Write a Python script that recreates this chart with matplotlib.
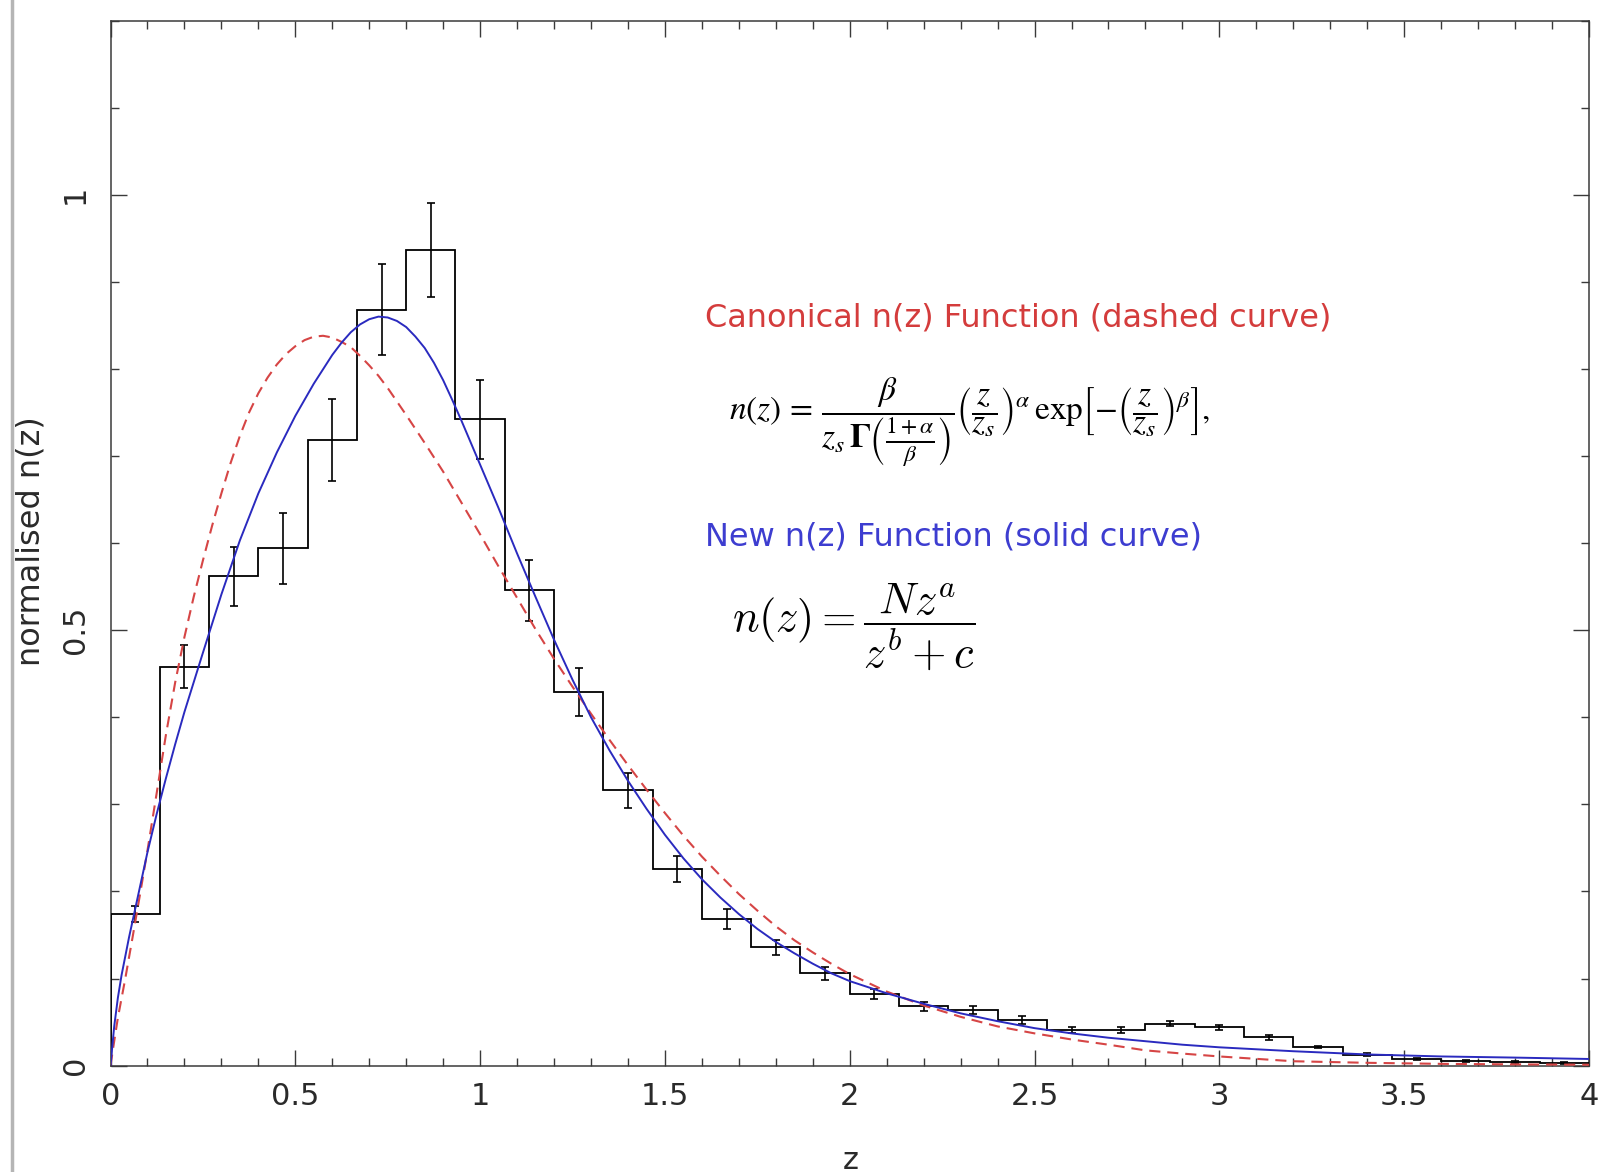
import numpy as np
import matplotlib
matplotlib.use("Agg")
import matplotlib.pyplot as plt
from matplotlib.lines import Line2D

plt.rcParams['font.family'] = ['DejaVu Sans']
plt.rcParams['lines.scale_dashes'] = False

# ---------------- data ----------------
z_min, z_max, n_bins = 0.0, 4.0, 30
hist_values = [0.174, 0.458, 0.562, 0.594, 0.718, 0.868, 0.936, 0.742, 0.546, 0.429,
               0.316, 0.226, 0.168, 0.136, 0.106, 0.082, 0.068, 0.064, 0.052, 0.041,
               0.041, 0.048, 0.044, 0.0325, 0.021, 0.0125, 0.0075, 0.0055, 0.004, 0.0027]
hist_errors = [0.0095, 0.025, 0.034, 0.041, 0.047, 0.052, 0.054, 0.045, 0.035, 0.028,
               0.020, 0.015, 0.0115, 0.0086, 0.0077, 0.0057, 0.0048, 0.0048, 0.0048, 0.003,
               0.0034, 0.003, 0.003, 0.003, 0.0012, 0.0015, 0.0015, 0.001, 0.001, 0.001]

# New n(z) function (solid blue)
new_z = [0.0, 0.01, 0.02, 0.03, 0.05, 0.075, 0.10, 0.125, 0.15, 0.175, 0.20, 0.25, 0.30,
         0.35, 0.40, 0.45, 0.50, 0.55, 0.60, 0.625, 0.65, 0.675, 0.70, 0.725, 0.75, 0.775,
         0.80, 0.825, 0.85, 0.875, 0.90, 0.925, 0.95, 1.00, 1.05, 1.10, 1.15, 1.20, 1.25,
         1.30, 1.35, 1.40, 1.45, 1.50, 1.55, 1.60, 1.65, 1.70, 1.75, 1.80, 1.85, 1.90,
         1.95, 2.00, 2.1, 2.2, 2.3, 2.4, 2.5, 2.6, 2.7, 2.8, 2.9, 3.0, 3.2, 3.4, 3.6,
         3.8, 4.0]
new_nz = [0.000, 0.045, 0.078, 0.104, 0.147, 0.196, 0.245, 0.289, 0.330, 0.369, 0.406,
          0.474, 0.541, 0.603, 0.657, 0.704, 0.746, 0.783, 0.816, 0.830, 0.842, 0.851,
          0.857, 0.860, 0.859, 0.855, 0.848, 0.837, 0.824, 0.807, 0.787, 0.764, 0.740,
          0.690, 0.640, 0.588, 0.538, 0.489, 0.443, 0.400, 0.362, 0.327, 0.295, 0.265,
          0.238, 0.214, 0.193, 0.174, 0.157, 0.142, 0.129, 0.117, 0.106, 0.097, 0.083,
          0.071, 0.060, 0.051, 0.043, 0.037, 0.032, 0.028, 0.024, 0.021, 0.0165, 0.0128,
          0.0105, 0.0092, 0.0076]

# Canonical n(z) function (dashed red)
can_z = [0.0, 0.01, 0.02, 0.04, 0.06, 0.08, 0.10, 0.125, 0.15, 0.175, 0.20, 0.225, 0.25,
         0.275, 0.30, 0.325, 0.35, 0.375, 0.40, 0.425, 0.45, 0.475, 0.50, 0.525, 0.55,
         0.575, 0.60, 0.625, 0.65, 0.675, 0.70, 0.725, 0.75, 0.80, 0.85, 0.90, 0.95,
         1.00, 1.05, 1.10, 1.15, 1.20, 1.25, 1.30, 1.35, 1.40, 1.45, 1.50, 1.55, 1.60,
         1.65, 1.70, 1.75, 1.80, 1.85, 1.90, 1.95, 2.00, 2.1, 2.2, 2.3, 2.4, 2.5, 2.6,
         2.7, 2.8, 2.9, 3.0, 3.2, 3.4, 3.6, 3.8, 4.0]
can_nz = [0.000, 0.028, 0.055, 0.100, 0.148, 0.197, 0.247, 0.313, 0.380, 0.440, 0.492,
          0.538, 0.580, 0.620, 0.657, 0.692, 0.723, 0.750, 0.772, 0.790, 0.805, 0.817,
          0.826, 0.833, 0.837, 0.838, 0.836, 0.831, 0.825, 0.815, 0.804, 0.792, 0.778,
          0.747, 0.715, 0.682, 0.646, 0.610, 0.573, 0.537, 0.501, 0.467, 0.435, 0.404,
          0.374, 0.345, 0.317, 0.290, 0.264, 0.240, 0.218, 0.197, 0.178, 0.160, 0.144,
          0.130, 0.117, 0.105, 0.085, 0.069, 0.056, 0.045, 0.037, 0.030, 0.024, 0.0175,
          0.0138, 0.0105, 0.0050, 0.0032, 0.0020, 0.0014, 0.0010]

x_ticks = [0, 0.5, 1, 1.5, 2, 2.5, 3, 3.5, 4]
x_tick_labels = ['0', '0.5', '1', '1.5', '2', '2.5', '3', '3.5', '4']
y_ticks = [0, 0.5, 1]
y_tick_labels = ['0', '0.5', '1']

red = '#d64545'
blue = '#2a2abf'
red_text = '#d43c3c'
blue_text = '#3d3dd0'
ink = '#2a2a2a'

# ---------------- figure ----------------
W, H = 1605, 1172
fig = plt.figure(figsize=(W / 100, H / 100), dpi=100)
L, R, T, B = 110.5, 1589, 20.5, 1065.6
ax = fig.add_axes([L / W, 1 - B / H, (R - L) / W, (B - T) / H])

edges = np.linspace(z_min, z_max, n_bins + 1)
centers = 0.5 * (edges[:-1] + edges[1:])

ax.stairs(hist_values, edges, color='black', lw=1.3, zorder=3)
ax.errorbar(centers, hist_values, yerr=hist_errors, fmt='none', ecolor='black',
            elinewidth=1.2, capsize=3, capthick=1.2, zorder=3)
ax.plot(can_z, can_nz, color=red, lw=1.5, dashes=(8, 5), zorder=4)
ax.plot(new_z, new_nz, color=blue, lw=1.4, zorder=5)

ax.set_xlim(0, 4)
ax.set_ylim(0, 1.2)
ax.set_xticks(x_ticks)
ax.set_xticklabels(x_tick_labels)
ax.set_xticks(np.arange(0, 4.001, 0.1), minor=True)
ax.set_yticks(y_ticks)
ax.set_yticklabels(y_tick_labels)
ax.set_yticks(np.arange(0, 1.2001, 0.1), minor=True)

for sp in ax.spines.values():
    sp.set_color('#3a3a3a')
    sp.set_linewidth(1.1)

ax.tick_params(which='both', direction='in', top=True, right=True, color='#3a3a3a', width=1.0)
ax.tick_params(which='major', length=11.5)
ax.tick_params(which='minor', length=5.5)
ax.tick_params(axis='x', which='major', labelsize=22, pad=12, labelcolor=ink)
ax.tick_params(axis='y', which='major', labelsize=22, pad=15, labelcolor=ink)
for lab in ax.get_yticklabels():
    lab.set_rotation(90)
    lab.set_va('center')
    lab.set_ha('right')

# axis labels
fig.text(31 / W, 1 - 541 / H, 'normalised n(z)', rotation=90, ha='center', va='center',
         fontsize=23, color=ink)
ax.set_xlabel('z', fontsize=22, color=ink)
ax.xaxis.set_label_coords(0.5008, -0.077)

# annotations
ax.text(1.609, 0.849, 'Canonical n(z) Function (dashed curve)', color=red_text,
        fontsize=23, ha='left', va='baseline')
ax.text(1.674, 0.739,
        r'$n(z)\,=\,\dfrac{\beta}{z_s\,\mathbf{\Gamma}\left(\frac{1+\alpha}{\beta}\right)}'
        r'\left(\dfrac{z}{z_s}\right)^{\alpha}\,\exp\!\left[-\left(\dfrac{z}{z_s}\right)^{\beta}\right],$',
        fontsize=24, ha='left', va='center', math_fontfamily='stix', color='black')
ax.text(1.609, 0.597, 'New n(z) Function (solid curve)', color=blue_text,
        fontsize=23, ha='left', va='baseline')
ax.text(1.682, 0.503, r'$n(z)=\dfrac{N z^{a}}{z^{b}+c}$', fontsize=32,
        ha='left', va='center', math_fontfamily='cm', color='black')

# grey page edge on the left
fig.add_artist(Line2D([12 / W, 12 / W], [0, 1], color='#b5b5b5', lw=2.5))

fig.savefig('out.png', dpi=100, facecolor='white')
